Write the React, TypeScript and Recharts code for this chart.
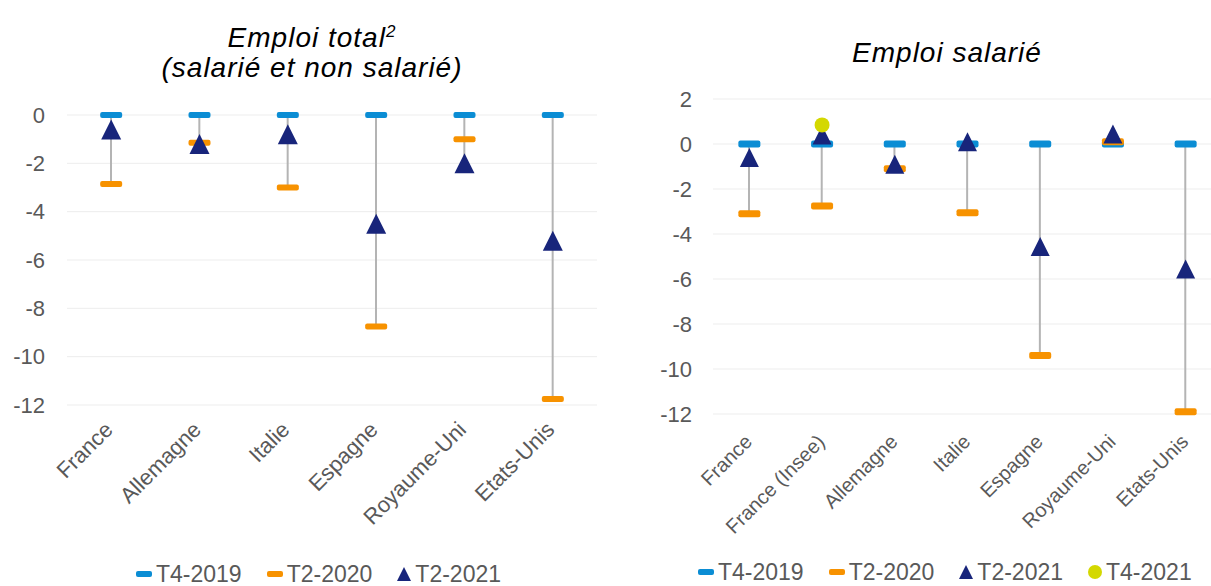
import React from "react";
import {
  ComposedChart,
  Bar,
  Line,
  XAxis,
  YAxis,
  CartesianGrid,
  Legend,
} from "recharts";

// Emploi : écart au T4-2019 (en %)

const totalCategories = ["France", "Allemagne", "Italie", "Espagne", "Royaume-Uni", "Etats-Unis"];
const totalT4_2019 = [0, 0, 0, 0, 0, 0];
const totalT2_2020 = [-2.85, -1.15, -3.0, -8.75, -1.0, -11.75];
const totalT2_2021 = [-0.6, -1.2, -0.8, -4.5, -2.0, -5.2];
const totalTicks = [0, -2, -4, -6, -8, -10, -12];

const salCategories = [
  "France",
  "France (Insee)",
  "Allemagne",
  "Italie",
  "Espagne",
  "Royaume-Uni",
  "Etats-Unis",
];
const salT4_2019 = [0, 0, 0, 0, 0, 0, 0];
const salT2_2020 = [-3.1, -2.75, -1.1, -3.05, -9.4, 0.1, -11.9];
const salT2_2021 = [-0.6, 0.4, -0.9, 0.1, -4.55, 0.45, -5.55];
const salT4_2021 = [null, 0.85, null, null, null, null, null];
const salTicks = [2, 0, -2, -4, -6, -8, -10, -12];

const BLUE = "#0B8DD4";
const ORANGE = "#F79200";
const NAVY = "#18257B";
const YELLOW = "#D4D800";
const GRAY = "#B4B4B4";
const TEXT = "#595959";
const FONT = '"Liberation Sans", Arial, sans-serif';

function buildRows(
  cats: string[],
  a: number[],
  b: number[],
  c: number[],
  d?: (number | null)[]
) {
  return cats.map((name, i) => {
    const vals = [a[i], b[i], c[i]];
    return {
      name,
      t4_2019: a[i],
      t2_2020: b[i],
      t2_2021: c[i],
      t4_2021: d ? d[i] : null,
      range: [Math.min(...vals), Math.max(...vals)],
    };
  });
}

const totalData = buildRows(totalCategories, totalT4_2019, totalT2_2020, totalT2_2021);
const salData = buildRows(salCategories, salT4_2019, salT2_2020, salT2_2021, salT4_2021);

// marqueurs
function dashDot(color: string, w: number, h: number) {
  return (props: any) => {
    const { cx, cy, index } = props;
    if (cx == null || cy == null) return <g key={index} />;
    return (
      <rect key={index} x={cx - w / 2} y={cy - h / 2} width={w} height={h} rx={2} fill={color} />
    );
  };
}

function triangleDot(size: number) {
  return (props: any) => {
    const { cx, cy, index } = props;
    if (cx == null || cy == null) return <g key={index} />;
    const h = size / 2;
    return (
      <polygon
        key={index}
        points={`${cx},${cy - h} ${cx + h},${cy + h} ${cx - h},${cy + h}`}
        fill={NAVY}
      />
    );
  };
}

function circleDot(r: number) {
  return (props: any) => {
    const { cx, cy, index, value } = props;
    if (cx == null || cy == null || value == null) return <g key={index} />;
    return <circle key={index} cx={cx} cy={cy} r={r} fill={YELLOW} />;
  };
}

// étiquettes inclinées de l'axe des abscisses
function makeXTick(fontSize: number, dx: number, dy: number) {
  return (props: any) => {
    const { x, y, payload } = props;
    return (
      <g transform={`translate(${x + dx},${y + dy})`}>
        <text
          x={0}
          y={0}
          textAnchor="end"
          transform="rotate(-45)"
          fill={TEXT}
          fontSize={fontSize}
          fontFamily={FONT}
        >
          {payload.value}
        </text>
      </g>
    );
  };
}

type LegendItem = { label: string; kind: "dash" | "tri" | "circle"; color: string };

function LegendIcon({ kind, color }: { kind: LegendItem["kind"]; color: string }) {
  if (kind === "dash") {
    return (
      <svg width={16} height={14} style={{ display: "block" }}>
        <rect x={0} y={4} width={16} height={6} rx={2} fill={color} />
      </svg>
    );
  }
  if (kind === "tri") {
    return (
      <svg width={14} height={14} style={{ display: "block" }}>
        <polygon points="7,0 14,14 0,14" fill={color} />
      </svg>
    );
  }
  return (
    <svg width={14} height={14} style={{ display: "block" }}>
      <circle cx={7} cy={7} r={7} fill={color} />
    </svg>
  );
}

function makeLegend(items: LegendItem[], padLeft: number, padTop: number) {
  return () => (
    <div
      style={{
        height: 30,
        boxSizing: "border-box",
        paddingLeft: padLeft,
        paddingTop: padTop,
        display: "flex",
        alignItems: "center",
        fontFamily: FONT,
        fontSize: 23,
        color: TEXT,
        whiteSpace: "nowrap",
      }}
    >
      {items.map((it) => (
        <div key={it.label} style={{ display: "flex", alignItems: "center", marginRight: 25 }}>
          <LegendIcon kind={it.kind} color={it.color} />
          <span style={{ marginLeft: 4, lineHeight: "24px" }}>{it.label}</span>
        </div>
      ))}
    </div>
  );
}

const legendBase: LegendItem[] = [
  { label: "T4-2019", kind: "dash", color: BLUE },
  { label: "T2-2020", kind: "dash", color: ORANGE },
  { label: "T2-2021", kind: "tri", color: NAVY },
];
const legendSal: LegendItem[] = [...legendBase, { label: "T4-2021", kind: "circle", color: YELLOW }];

const titleStyle: React.CSSProperties = {
  position: "absolute",
  width: 500,
  textAlign: "center",
  fontFamily: FONT,
  fontStyle: "italic",
  fontSize: 28,
  letterSpacing: 1,
  lineHeight: "30px",
  color: "#000",
  whiteSpace: "nowrap",
};

export default function App() {
  return (
    <div
      style={{
        position: "absolute",
        left: 0,
        top: 0,
        width: 1211,
        height: 586,
        overflow: "hidden",
        background: "#fff",
        fontFamily: FONT,
      }}
    >
      <div style={{ ...titleStyle, left: 62, top: 23 }}>
        Emploi total<sup style={{ fontSize: 17, lineHeight: 0 }}>2</sup>
        <br />
        (salarié et non salarié)
      </div>
      <div style={{ ...titleStyle, left: 697, top: 38 }}>Emploi salarié</div>

      {/* Emploi total */}
      <div style={{ position: "absolute", left: 0, top: 0 }}>
        <ComposedChart
          width={600}
          height={586}
          data={totalData}
          margin={{ top: 115, right: 3, left: 0, bottom: 0 }}
        >
          <CartesianGrid stroke="#EDEDED" vertical={false} />
          <XAxis
            dataKey="name"
            interval={0}
            axisLine={false}
            tickLine={false}
            height={151}
            tick={makeXTick(22, 3, 18)}
          />
          <YAxis
            domain={[-12, 0]}
            ticks={totalTicks}
            width={67}
            axisLine={false}
            tickLine={false}
            tickSize={0}
            tickMargin={22}
            tick={{ fill: TEXT, fontSize: 22, fontFamily: FONT }}
          />
          <Legend verticalAlign="bottom" content={makeLegend(legendBase, 136, 6)} />
          <Bar dataKey="range" barSize={2} fill={GRAY} isAnimationActive={false} />
          <Line dataKey="t4_2019" stroke="none" dot={dashDot(BLUE, 22, 6)} activeDot={false} isAnimationActive={false} />
          <Line dataKey="t2_2020" stroke="none" dot={dashDot(ORANGE, 22, 6)} activeDot={false} isAnimationActive={false} />
          <Line dataKey="t2_2021" stroke="none" dot={triangleDot(20)} activeDot={false} isAnimationActive={false} />
        </ComposedChart>
      </div>

      {/* Emploi salarié */}
      <div style={{ position: "absolute", left: 620, top: 0 }}>
        <ComposedChart
          width={602}
          height={586}
          data={salData}
          margin={{ top: 99, right: 0, left: 0, bottom: 0 }}
        >
          <CartesianGrid stroke="#EDEDED" vertical={false} />
          <XAxis
            dataKey="name"
            interval={0}
            axisLine={false}
            tickLine={false}
            height={142}
            tick={makeXTick(20, 4, 21)}
          />
          <YAxis
            domain={[-12, 2]}
            ticks={salTicks}
            width={93}
            axisLine={false}
            tickLine={false}
            tickSize={0}
            tickMargin={21}
            tick={{ fill: TEXT, fontSize: 22, fontFamily: FONT }}
          />
          <Legend verticalAlign="bottom" content={makeLegend(legendSal, 78, 2)} />
          <Bar dataKey="range" barSize={2} fill={GRAY} isAnimationActive={false} />
          <Line dataKey="t4_2019" stroke="none" dot={dashDot(BLUE, 22, 7)} activeDot={false} isAnimationActive={false} />
          <Line dataKey="t2_2020" stroke="none" dot={dashDot(ORANGE, 22, 7)} activeDot={false} isAnimationActive={false} />
          <Line dataKey="t2_2021" stroke="none" dot={triangleDot(19)} activeDot={false} isAnimationActive={false} />
          <Line dataKey="t4_2021" stroke="none" dot={circleDot(7.5)} activeDot={false} isAnimationActive={false} />
        </ComposedChart>
      </div>
    </div>
  );
}
